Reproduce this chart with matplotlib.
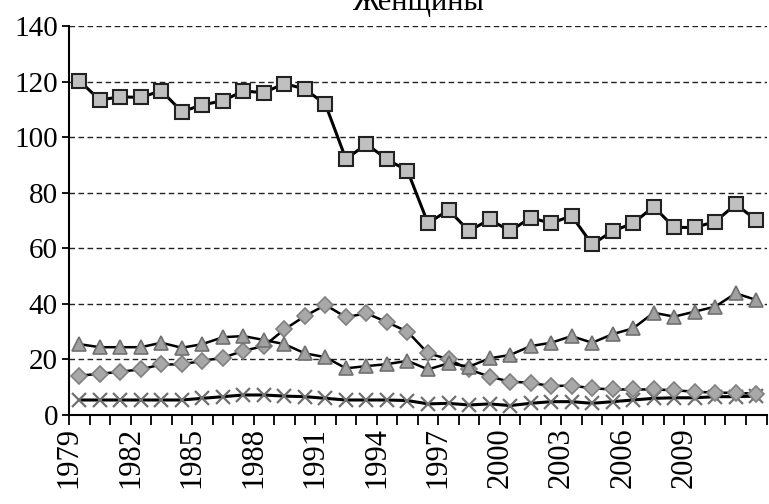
import matplotlib.pyplot as plt
import numpy as np

plt.rcParams['font.family'] = ['Liberation Serif', 'DejaVu Serif']

# -- data
years = list(range(1979, 2013))

squares = [120.3, 113.4, 114.5, 114.3, 116.7, 109.2, 111.6, 113.1, 116.6, 116.0,
           119.3, 117.3, 111.8, 92.1, 97.5, 92.0, 87.9, 69.0, 73.8, 66.2,
           70.4, 66.2, 71.0, 69.0, 71.7, 61.4, 66.2, 69.0, 75.0, 67.5,
           67.5, 69.6, 75.8, 70.2]

triangles = [25.5, 24.4, 24.4, 24.4, 26.0, 24.2, 25.5, 28.0, 28.4, 27.0,
             25.5, 22.2, 20.8, 16.8, 17.6, 18.3, 19.5, 16.4, 18.6, 17.4,
             20.4, 21.6, 24.8, 26.0, 28.4, 26.0, 29.1, 31.2, 36.8, 35.4,
             37.2, 39.0, 43.8, 41.4]

diamonds = [14.2, 14.8, 15.6, 16.4, 18.2, 18.2, 19.5, 20.6, 23.1, 24.8,
            30.8, 35.6, 39.6, 35.2, 36.6, 33.4, 30.0, 22.2, 20.1, 16.4,
            13.8, 12.0, 11.6, 10.4, 10.6, 9.6, 9.2, 9.2, 9.2, 8.9,
            8.4, 8.0, 8.0, 7.6]

crosses = [5.4, 5.4, 5.4, 5.4, 5.4, 5.4, 6.0, 6.6, 7.2, 7.2,
           6.8, 6.6, 6.0, 5.4, 5.4, 5.4, 5.2, 4.0, 4.2, 3.6,
           4.0, 3.4, 4.2, 4.8, 4.8, 4.2, 4.8, 5.4, 6.0, 6.2,
           6.2, 6.6, 6.6, 6.8]

title = 'Женщины'
yticks = [0, 20, 40, 60, 80, 100, 120, 140]

x = np.arange(len(years))

fig = plt.figure(figsize=(7.69, 5.04), dpi=100)
ax = fig.add_axes([69 / 769, 1 - 415 / 504, 697.5 / 769, 389 / 504])

# -- gridlines
for v in yticks[1:]:
    ax.axhline(v, color='#222222', lw=1.0, ls=(0, (4, 2.5)), zorder=0)

# -- series
ax.plot(x, crosses, color='black', lw=2.2, marker='x', ms=10, mew=1.6,
        mec='#707070', zorder=3)
ax.plot(x, diamonds, color='black', lw=1.8, marker='D', ms=8, mfc='#a8a8a8',
        mec='#808080', mew=1.2, zorder=4)
ax.plot(x, triangles, color='black', lw=1.8, marker='^', ms=10, mfc='#a0a0a0',
        mec='#707070', mew=1.2, zorder=4)
ax.plot(x, squares, color='black', lw=2.2, marker='s', ms=10, mfc='#c0c0c0',
        mec='#222222', mew=1.5, zorder=5)

# -- axes
ax.set_xlim(-0.5, len(years) - 0.5)
ax.set_ylim(0, 140)
ax.set_yticks(yticks)
ax.set_yticklabels([str(v) for v in yticks], fontsize=21)

ax.set_xticks(np.arange(len(years) + 1) - 0.5)
ax.set_xticklabels([str(years[i]) if i % 3 == 0 and i <= 30 else ''
                    for i in range(len(years) + 1)], rotation=90, fontsize=22)
ax.tick_params(axis='x', length=7, width=1.3, pad=2)
ax.tick_params(axis='y', length=5, width=1.3, pad=3)

for s in ['top', 'right']:
    ax.spines[s].set_visible(False)
for s in ['left', 'bottom']:
    ax.spines[s].set_linewidth(1.5)

fig.text(0.543, 1 - 10 / 504, title, ha='center', va='baseline', fontsize=22)

fig.savefig('out.png', dpi=100)
